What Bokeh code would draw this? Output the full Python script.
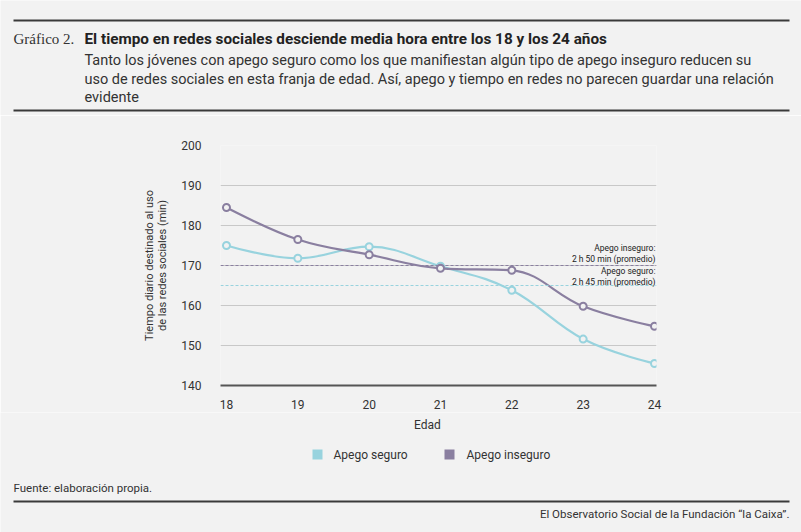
from bokeh.plotting import figure
from bokeh.models import (Label, BoxAnnotation, Span, FixedTicker,
                          ColumnDataSource)
from bokeh.embed import file_html
from bokeh.resources import INLINE

# ---------------- data ----------------
ages = [18, 19, 20, 21, 22, 23, 24]
seguro = [175.0, 171.8, 174.7, 169.8, 163.8, 151.6, 145.5]
inseguro = [184.5, 176.5, 172.7, 169.3, 168.8, 159.8, 154.8]
mean_seguro = 165.0      # 2 h 45 min
mean_inseguro = 170.0    # 2 h 50 min
y_ticks = [140, 150, 160, 170, 180, 190, 200]
series_names = ["Apego seguro", "Apego inseguro"]

C_SEG = "#98d3de"
C_INS = "#8a7fa0"
BG = "#f2f2f2"
TXT = "#333333"
W = 801
OFF = 0  # page offset of the content


def blank_panel(top, bottom):
    """A figure whose frame covers the whole canvas (for texts and rules)."""
    h = bottom - top
    f = figure(width=W, height=h, output_backend="svg", toolbar_location=None,
               x_range=(0, W), y_range=(0, h), min_border=0,
               x_axis_location=None, y_axis_location=None,
               background_fill_color=BG, border_fill_color=BG,
               outline_line_color=None)
    f.grid.visible = False
    f._top = top
    f._bottom = bottom
    return f


def lab(f, text, X, Y, size, font="Roboto", style="normal", align="left",
        color=TXT, angle=0.0):
    f.add_layout(Label(x=X - OFF, y=f._bottom - Y, x_units="screen",
                       y_units="screen", text=text, text_font=font,
                       text_font_size=size, text_font_style=style,
                       text_align=align, text_baseline="middle",
                       text_color=color, angle=angle))


def box(f, X0, X1, Y0, Y1, color):
    f.add_layout(BoxAnnotation(left=X0 - OFF, right=X1 - OFF,
                               top=f._bottom - Y0, bottom=f._bottom - Y1,
                               left_units="screen", right_units="screen",
                               top_units="screen", bottom_units="screen",
                               fill_color=color, fill_alpha=1,
                               line_color=None))


def rule(f, X0, X1, Y, thick=2, color="#3a3a3a"):
    box(f, X0, X1, Y - thick / 2, Y + thick / 2, color)


# ---------------- header ----------------
head = blank_panel(OFF, 115)
rule(head, 13, 789, 20)
rule(head, 13, 789, 110)
lab(head, "Gráfico 2.", 13, 38, "15px", font="Liberation Serif")
lab(head, "El tiempo en redes sociales desciende media hora entre los 18 y los 24 años",
    84, 38, "15.3px", style="bold", color="#222222")
lab(head, "Tanto los jóvenes con apego seguro como los que manifiestan algún tipo de apego inseguro reducen su",
    84, 60, "14.5px")
lab(head, "uso de redes sociales en esta franja de edad. Así, apego y tiempo en redes no parecen guardar una relación",
    84, 79, "14.5px")
lab(head, "evidente", 84, 97, "14.5px")

# ---------------- chart ----------------
CT, CB = 115, 412
p = figure(width=W, height=CB - CT, output_backend="svg", toolbar_location=None,
           x_range=(17.916, 24.028), y_range=(140, 200),
           min_border_left=220 - OFF, min_border_right=W - (656 - OFF),
           min_border_top=145 - CT, min_border_bottom=CB - 385,
           background_fill_color=BG, border_fill_color=BG,
           outline_line_color=None)

p.xaxis.ticker = FixedTicker(ticks=ages)
p.xaxis.axis_line_color = "#555555"
p.xaxis.axis_line_width = 2
p.xaxis.major_tick_line_color = None
p.xaxis.minor_tick_line_color = None
p.xaxis.major_label_standoff = 8
p.xaxis.major_label_text_font = "Roboto"
p.xaxis.major_label_text_font_size = "12px"
p.xaxis.major_label_text_color = TXT

p.yaxis.ticker = FixedTicker(ticks=y_ticks)
p.yaxis.axis_line_color = None
p.yaxis.major_tick_line_color = None
p.yaxis.minor_tick_line_color = None
p.yaxis.major_label_standoff = 13
p.yaxis.major_label_text_font = "Roboto"
p.yaxis.major_label_text_font_size = "12px"
p.yaxis.major_label_text_color = TXT
p.yaxis.axis_label = "Tiempo diario destinado al uso\nde las redes sociales (min)"
p.yaxis.axis_label_text_font = "Roboto"
p.yaxis.axis_label_text_font_size = "11px"
p.yaxis.axis_label_text_font_style = "normal"
p.yaxis.axis_label_text_color = TXT
p.yaxis.axis_label_text_line_height = 1.05
p.yaxis.axis_label_standoff = 9

p.xgrid.grid_line_color = None
p.ygrid.grid_line_color = "#c8c8c8"
p.ygrid.grid_line_width = 1

p.add_layout(Span(location=mean_inseguro, dimension="width", line_color=C_INS,
                  line_dash="3 2", line_width=1))
p.add_layout(Span(location=mean_seguro, dimension="width", line_color=C_SEG,
                  line_dash="3 2", line_width=1))


def spline_controls(xs, ys, smoothing=1.5):
    """Highcharts-like spline control points, computed from the data."""
    n = len(xs)
    denom = smoothing + 1
    left = [(xs[i], ys[i]) for i in range(n)]
    right = [(xs[i], ys[i]) for i in range(n)]
    for i in range(1, n - 1):
        px, py = xs[i], ys[i]
        lx, ly = xs[i - 1], ys[i - 1]
        nx, ny = xs[i + 1], ys[i + 1]
        lcx = (smoothing * px + lx) / denom
        lcy = (smoothing * py + ly) / denom
        rcx = (smoothing * px + nx) / denom
        rcy = (smoothing * py + ny) / denom
        corr = 0.0
        if rcx != lcx:
            corr = (rcy - lcy) * (rcx - px) / (rcx - lcx) + py - rcy
        lcy += corr
        rcy += corr
        if lcy > ly and lcy > py:
            lcy = max(ly, py); rcy = 2 * py - lcy
        elif lcy < ly and lcy < py:
            lcy = min(ly, py); rcy = 2 * py - lcy
        if rcy > ny and rcy > py:
            rcy = max(ny, py); lcy = 2 * py - rcy
        elif rcy < ny and rcy < py:
            rcy = min(ny, py); lcy = 2 * py - rcy
        left[i] = (lcx, lcy)
        right[i] = (rcx, rcy)
    d = dict(x0=xs[:-1], y0=ys[:-1], x1=xs[1:], y1=ys[1:],
             cx0=[right[i][0] for i in range(n - 1)],
             cy0=[right[i][1] for i in range(n - 1)],
             cx1=[left[i + 1][0] for i in range(n - 1)],
             cy1=[left[i + 1][1] for i in range(n - 1)])
    return ColumnDataSource(d)


for vals, col in ((seguro, C_SEG), (inseguro, C_INS)):
    src = spline_controls(ages, vals)
    p.bezier(x0="x0", y0="y0", x1="x1", y1="y1", cx0="cx0", cy0="cy0",
             cx1="cx1", cy1="cy1", source=src, line_color=col, line_width=2.2)
    p.scatter(ages, vals, marker="circle", size=7, fill_color=BG,
              line_color=col, line_width=2)


def in_frame_label(text, X, Y):
    p.add_layout(Label(x=X - 220, y=385 - Y, x_units="screen", y_units="screen",
                       text=text, text_font="Roboto", text_font_size="8.5px",
                       text_align="right", text_baseline="middle",
                       text_color="#222222"))


in_frame_label("Apego inseguro:", 655, 247)
in_frame_label("2 h 50 min (promedio)", 655, 258)
in_frame_label("Apego seguro:", 655, 270)
in_frame_label("2 h 45 min (promedio)", 655, 281)

# ---------------- footer ----------------
foot = blank_panel(CB, 532)
lab(foot, "Edad", 427, 424, "12px", align="center")
# legend: swatches + labels
box(foot, 312, 322, 449, 459, C_SEG)
lab(foot, series_names[0], 333, 454, "12px")
box(foot, 444, 454, 449, 459, C_INS)
lab(foot, series_names[1], 466, 454, "12px")

lab(foot, "Fuente: elaboración propia.", 13, 487, "11.5px")
rule(foot, 13, 789, 501)
lab(foot, "El Observatorio Social de la Fundación “la Caixa”.", 789, 513, "11.5px",
    align="right")

open("out.html", "w").write(file_html([head, p, foot], INLINE))
